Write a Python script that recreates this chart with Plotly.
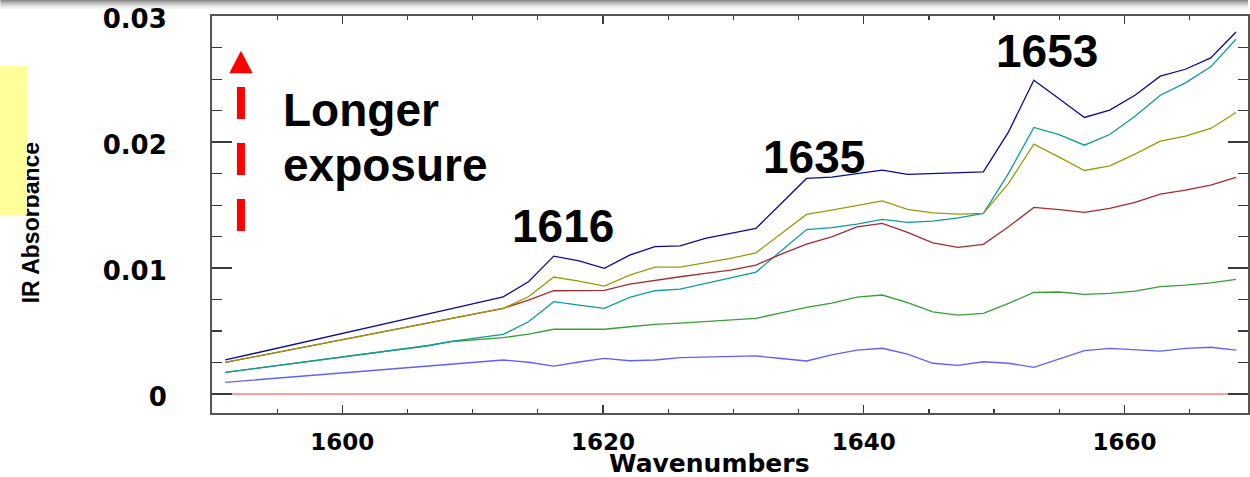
import plotly.graph_objects as go

# ---------------- data ----------------
wavenumbers = [1591.02, 1592.96, 1594.90, 1596.84, 1598.77, 1600.71, 1602.65, 1604.59,
               1606.53, 1608.47, 1610.41, 1612.34, 1614.28, 1616.22, 1618.16, 1620.10,
               1622.04, 1623.98, 1625.91, 1627.85, 1629.79, 1631.73, 1633.67, 1635.61,
               1637.54, 1639.48, 1641.42, 1643.36, 1645.30, 1647.24, 1649.18, 1651.11,
               1653.05, 1654.99, 1656.93, 1658.87, 1660.81, 1662.75, 1664.68, 1666.62,
               1668.56]

red_series = [0.0, 0.0, 0.0, 0.0, 0.0, 0.0, 0.0, 0.0, 0.0, 0.0, 0.0, 0.0, 0.0, 0.0,
              0.0, 0.0, 0.0, 0.0, 0.0, 0.0, 0.0, 0.0, 0.0, 0.0, 0.0, 0.0, 0.0, 0.0,
              0.0, 0.0, 0.0, 0.0, 0.0, 0.0, 0.0, 0.0, 0.0, 0.0, 0.0, 0.0, 0.0]

blue_series = [0.00093, 0.00109, 0.00125, 0.00140, 0.00156, 0.00172, 0.00188, 0.00204,
               0.00222, 0.00238, 0.00258, 0.00270, 0.00252, 0.00222, 0.00254, 0.00283,
               0.00264, 0.00270, 0.00288, 0.00294, 0.00299, 0.00302, 0.00282, 0.00262,
               0.00310, 0.00349, 0.00363, 0.00317, 0.00244, 0.00228, 0.00256, 0.00244,
               0.00212, 0.00278, 0.00344, 0.00363, 0.00349, 0.00341, 0.00363, 0.00371,
               0.00349]

green_series = [0.00172, 0.00198, 0.00224, 0.00251, 0.00277, 0.00303, 0.00330, 0.00356,
                0.00383, 0.00417, 0.00433, 0.00447, 0.00476, 0.00514, 0.00514, 0.00514,
                0.00534, 0.00553, 0.00563, 0.00574, 0.00585, 0.00601, 0.00644, 0.00688,
                0.00722, 0.00770, 0.00786, 0.00725, 0.00653, 0.00627, 0.00640, 0.00720,
                0.00807, 0.00810, 0.00791, 0.00799, 0.00817, 0.00852, 0.00865, 0.00883,
                0.00910]

teal_series = [0.00172, 0.00198, 0.00224, 0.00251, 0.00277, 0.00303, 0.00330, 0.00356,
               0.00383, 0.00419, 0.00447, 0.00474, 0.00574, 0.00733, 0.00706, 0.00680,
               0.00767, 0.00820, 0.00833, 0.00881, 0.00923, 0.00968, 0.01135, 0.01306,
               0.01321, 0.01349, 0.01387, 0.01363, 0.01373, 0.01399, 0.01434, 0.01752,
               0.02117, 0.02060, 0.01976, 0.02061, 0.02206, 0.02373, 0.02471, 0.02598,
               0.02817]

darkred_series = [0.00251, 0.00290, 0.00329, 0.00368, 0.00407, 0.00446, 0.00486, 0.00525,
                  0.00564, 0.00603, 0.00641, 0.00680, 0.00746, 0.00820, 0.00821, 0.00823,
                  0.00873, 0.00905, 0.00931, 0.00958, 0.00984, 0.01024, 0.01111, 0.01190,
                  0.01248, 0.01328, 0.01355, 0.01283, 0.01201, 0.01164, 0.01188, 0.01328,
                  0.01482, 0.01464, 0.01442, 0.01474, 0.01521, 0.01587, 0.01619, 0.01659,
                  0.01720]

olive_series = [0.00251, 0.00290, 0.00329, 0.00368, 0.00407, 0.00446, 0.00486, 0.00525,
                0.00564, 0.00603, 0.00641, 0.00680, 0.00772, 0.00929, 0.00897, 0.00857,
                0.00944, 0.01008, 0.01008, 0.01042, 0.01077, 0.01121, 0.01274, 0.01426,
                0.01460, 0.01500, 0.01534, 0.01466, 0.01439, 0.01429, 0.01434, 0.01672,
                0.01984, 0.01881, 0.01775, 0.01812, 0.01905, 0.02008, 0.02048, 0.02109,
                0.02236]

navy_series = [0.00270, 0.00315, 0.00361, 0.00406, 0.00452, 0.00498, 0.00544, 0.00589,
               0.00635, 0.00680, 0.00726, 0.00772, 0.00891, 0.01095, 0.01058, 0.00998,
               0.01103, 0.01171, 0.01177, 0.01236, 0.01275, 0.01315, 0.01513, 0.01712,
               0.01722, 0.01750, 0.01778, 0.01744, 0.01752, 0.01760, 0.01764, 0.02082,
               0.02492, 0.02344, 0.02196, 0.02254, 0.02373, 0.02524, 0.02579, 0.02669,
               0.02875]

series = [
    ("red", red_series, "#FF7B7B"),
    ("blue", blue_series, "#5F5FFF"),
    ("green", green_series, "#36A036"),
    ("teal", teal_series, "#109A9A"),
    ("darkred", darkred_series, "#A42C2C"),
    ("olive", olive_series, "#9A9A08"),
    ("navy", navy_series, "#0A0A96"),
]

peak_labels = ["1616", "1635", "1653"]
x_title = "Wavenumbers"
y_title = "IR Absorbance"

# ---------------- figure ----------------
fig = go.Figure()
for name, vals, color in series:
    fig.add_trace(go.Scatter(x=wavenumbers, y=vals, mode="lines", name=name,
                             line=dict(color=color, width=1.3), hoverinfo="skip"))

W, H = 1250, 477
ML, MR, MT, MB = 212, 0, 16, 64
PW, PH = W - ML - MR, H - MT - MB


def px(xp):
    return (xp - ML) / PW


def py(yp):
    return (H - MB - yp) / PH


axis_common = dict(showgrid=False, zeroline=False, showline=True, linecolor="#555555",
                   linewidth=2, mirror="ticks", ticks="inside", tickcolor="#3a3a3a",
                   tickwidth=1.5)

fig.update_layout(
    width=W, height=H,
    margin=dict(l=ML, r=MR, t=MT, b=MB, pad=0),
    plot_bgcolor="white", paper_bgcolor="white",
    showlegend=False,
    xaxis=dict(range=[1590, 1669.48], dtick=20, tick0=1600, ticklen=8,
               tickfont=dict(family="DejaVu Sans", size=23, color="black", weight="bold"),
               ticklabelstandoff=7,
               minor=dict(dtick=5, tick0=1590, ticks="inside", ticklen=4,
                          tickcolor="#3a3a3a", tickwidth=1.2, showgrid=False),
               **axis_common),
    yaxis=dict(range=[-0.00151, 0.03002], dtick=0.01, tick0=0, ticklen=20,
               tickfont=dict(family="DejaVu Sans", size=26, color="black", weight="bold"),
               ticklabelstandoff=38, ticklabelshift=3, ticklabeloverflow="allow",
               minor=dict(dtick=0.0025, tick0=0, ticks="inside", ticklen=10,
                          tickcolor="#3a3a3a", tickwidth=1.2, showgrid=False),
               **axis_common),
)

shapes = []
# grey gradient strip at the very top of the picture (below the texts)
greys = [140, 158, 176, 192, 206, 219, 230, 239, 246, 251]
for r, g in enumerate(greys):
    shapes.append(dict(type="rect", xref="paper", yref="paper",
                       x0=px(0), x1=px(W), y0=py(r + 1), y1=py(r),
                       fillcolor=f"rgb({g},{g},{g})", line=dict(width=0), layer="below"))
# dashed red arrow ("Longer exposure")
shapes.append(dict(type="line", xref="paper", yref="paper",
                   x0=px(241), x1=px(241), y0=py(231), y1=py(87),
                   line=dict(color="#FF0000", width=8, dash="32px,24px"), layer="above"))
shapes.append(dict(type="path", xref="paper", yref="paper",
                   path=f"M {px(229.3)},{py(73.3)} L {px(252.7)},{py(73.3)} L {px(241)},{py(50.7)} Z",
                   fillcolor="#FF0000", line=dict(width=0), layer="above"))
fig.update_layout(shapes=shapes)

big = dict(family="Liberation Sans, Arial, sans-serif", size=46, color="black", weight="bold")
annotations = [
    dict(text=peak_labels[0], x=px(564), y=py(226), xref="paper", yref="paper",
         showarrow=False, font=big, xanchor="center", yanchor="middle"),
    dict(text=peak_labels[1], x=px(815), y=py(157), xref="paper", yref="paper",
         showarrow=False, font=big, xanchor="center", yanchor="middle"),
    dict(text=peak_labels[2], x=px(1048.5), y=py(51), xref="paper", yref="paper",
         showarrow=False, font=big, xanchor="center", yanchor="middle"),
    dict(text="Longer", x=px(281), y=py(110), xref="paper", yref="paper",
         showarrow=False, font=big, xanchor="left", yanchor="middle"),
    dict(text="exposure", x=px(281), y=py(165), xref="paper", yref="paper",
         showarrow=False, font=big, xanchor="left", yanchor="middle"),
    dict(text=x_title, x=px(710), y=py(463), xref="paper", yref="paper",
         showarrow=False, xanchor="center", yanchor="middle",
         font=dict(family="DejaVu Sans", size=25, color="black", weight="bold")),
    dict(text=y_title, x=px(31), y=py(223), xref="paper", yref="paper",
         showarrow=False, xanchor="center", yanchor="middle", textangle=-90,
         font=dict(family="Liberation Sans, Arial, sans-serif", size=23, color="black",
                   weight="bold")),
    # pale yellow note box overlapping the axis title
    dict(text=" ", x=px(0), y=py(66), xref="paper", yref="paper", showarrow=False,
         xanchor="left", yanchor="top", width=27, height=149, bgcolor="#FFFF99",
         borderpad=0, borderwidth=0),
]
fig.update_layout(annotations=annotations)

fig.write_html("out.html",
               config={"displayModeBar": False, "staticPlot": True},
               post_script="document.body.style.margin='0px';"
                           "document.body.style.padding='0px';"
                           "document.documentElement.style.overflow='hidden';")
